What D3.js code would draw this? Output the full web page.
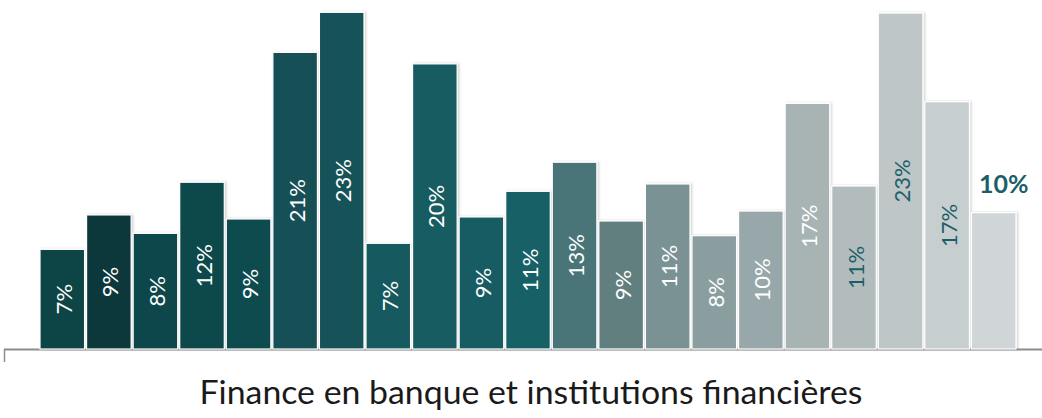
<!DOCTYPE html>
<html>
<head>
<meta charset="utf-8">
<script src="https://cdn.jsdelivr.net/npm/d3@7"></script>
<style>
  html, body { margin: 0; padding: 0; background: #ffffff; }
  svg { display: block; }
</style>
</head>
<body>
<svg id="chart" width="1042" height="418"></svg>
<script>
// Data
const categories = ["c1","c2","c3","c4","c5","c6","c7","c8","c9","c10","c11","c12","c13","c14","c15","c16","c17","c18","c19","c20","c21"];
const values = [6.92, 9.31, 8.03, 11.58, 9.03, 20.6, 23.38, 7.34, 19.8, 9.17, 10.95, 12.97, 8.89, 11.46, 7.87, 9.58, 17.06, 11.32, 23.33, 17.17, 9.47];
const labels = ["7%","9%","8%","12%","9%","21%","23%","7%","20%","9%","11%","13%","9%","11%","8%","10%","17%","11%","23%","17%","10%"];
const barColors = ["#0f4547","#0b393b","#10474b","#10484c","#114b4f","#134f55","#145358","#155a5f","#155b60","#165c62","#176066","#4a7478","#627f80","#7a9294","#8a9ea0","#98a8aa","#a8b3b4","#b3bcbd","#bec6c7","#c7cecf","#d0d6d8"];
const labelColors = ["#ffffff","#ffffff","#ffffff","#ffffff","#ffffff","#ffffff","#ffffff","#ffffff","#ffffff","#ffffff","#ffffff","#ffffff","#ffffff","#ffffff","#ffffff","#ffffff","#ffffff","#1a5f66","#1a5f66","#1a5f66","#1a5f66"];
const title = "Finance en banque et institutions financières";

const svg = d3.select("#chart");
const baseY = 349;
const x = d3.scaleBand().domain(categories).range([39, 1017]).paddingInner(0).paddingOuter(0);
const y = d3.scaleLinear().domain([0, 24]).range([baseY, baseY - 24 * 14.4]);

const defs = svg.append("defs");
const f = defs.append("filter").attr("id", "sh").attr("x", "-10%").attr("y", "-10%").attr("width", "130%").attr("height", "130%");
f.append("feDropShadow").attr("dx", 1.5).attr("dy", 0).attr("stdDeviation", 1).attr("flood-color", "#000").attr("flood-opacity", 0.18);

// axis line
svg.append("line").attr("x1", 4).attr("x2", 1042).attr("y1", baseY + 0.5).attr("y2", baseY + 0.5)
  .attr("stroke", "#8c8c8c").attr("stroke-width", 2);
svg.append("line").attr("x1", 4.5).attr("x2", 4.5).attr("y1", baseY).attr("y2", 362)
  .attr("stroke", "#8c8c8c").attr("stroke-width", 1.5);

// bars
svg.selectAll("rect.bar").data(values).enter().append("rect")
  .attr("class", "bar")
  .attr("x", (d, i) => x(categories[i]) + 1)
  .attr("width", x.bandwidth() - 2)
  .attr("y", d => y(d))
  .attr("height", d => y(0) - y(d))
  .attr("fill", (d, i) => barColors[i])
  .attr("stroke", "#ffffff").attr("stroke-width", 1.2)
  .attr("filter", "url(#sh)");

// labels inside bars (rotated)
const last = values.length - 1;
svg.selectAll("text.lbl").data(values.slice(0, last)).enter().append("text")
  .attr("class", "lbl")
  .attr("transform", (d, i) => {
    const cx = x(categories[i]) + x.bandwidth() / 2 + 1;
    const cy = (y(d) + y(0)) / 2;
    return `translate(${cx},${cy}) rotate(-90)`;
  })
  .attr("text-anchor", "middle")
  .attr("dominant-baseline", "central")
  .attr("font-family", "Lato, 'Open Sans', sans-serif")
  .attr("font-size", 22)
  .attr("fill", (d, i) => labelColors[i])
  .text((d, i) => labels[i]);

// last label above the bar, bold horizontal
svg.append("text")
  .attr("x", x(categories[last]) + x.bandwidth() / 2 + 10)
  .attr("y", y(values[last]) - 20)
  .attr("text-anchor", "middle")
  .attr("font-family", "Lato, 'Open Sans', sans-serif")
  .attr("font-weight", "bold")
  .attr("font-size", 25)
  .attr("fill", labelColors[last])
  .text(labels[last]);

// title
svg.append("text")
  .attr("x", 531).attr("y", 404)
  .attr("text-anchor", "middle")
  .attr("font-family", "Lato, 'Open Sans', sans-serif")
  .attr("font-size", 33)
  .attr("textLength", 663)
  .attr("lengthAdjust", "spacingAndGlyphs")
  .attr("fill", "#1a1a1a")
  .text(title);
</script>
</body>
</html>
